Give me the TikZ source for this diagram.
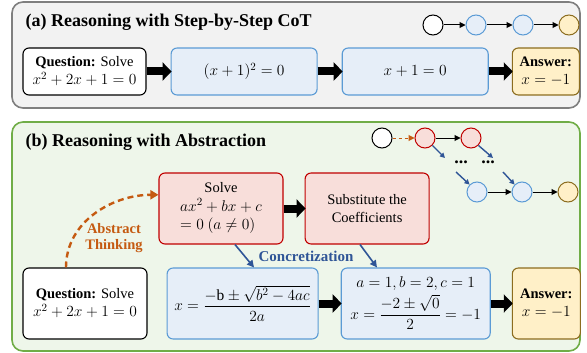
\documentclass[tikz,border=0pt]{standalone}
\usepackage{fix-cm}
\usepackage{amsmath}
\usepackage{amssymb}
\usepackage{fontspec}
\setmainfont{Liberation Serif}
\DeclareMathSizes{14.5}{15.5}{11}{8.5}
\usepackage{tikz}
\usetikzlibrary{positioning}
\usetikzlibrary{calc}
\usetikzlibrary{arrows.meta}
\definecolor{stepblue}{HTML}{5B9BD5}
\definecolor{stepfill}{HTML}{E6EEF8}
\definecolor{absred}{HTML}{C00000}
\definecolor{absfill}{HTML}{F8DEDA}
\definecolor{ansdraw}{HTML}{8C6D1F}
\definecolor{ansfill}{HTML}{FFF0C8}
\definecolor{thinkorange}{HTML}{C55A11}
\definecolor{concblue}{HTML}{2F5597}
\definecolor{panelgray}{HTML}{7F7F7F}
\definecolor{panelfill}{HTML}{F2F2F2}
\definecolor{panelgreen}{HTML}{70AD47}
\definecolor{greenfill}{HTML}{EEF6EA}
\tikzset{
  box/.style={rounded corners=6pt, line width=1.1pt, align=center, inner sep=2pt, font=\fontsize{14.5}{18}\selectfont},
  qbox/.style={box, draw=black, fill=white},
  stepbox/.style={box, draw=stepblue, fill=stepfill},
  ansbox/.style={box, draw=ansdraw, fill=ansfill},
  absbox/.style={box, draw=absred, fill=absfill},
  bigarrow/.style={line width=8pt, -{Triangle[length=9pt,width=18pt]}, shorten >=-1pt},
  dot/.style={circle, minimum size=20pt, line width=1pt, inner sep=0pt},
  thin arrow/.style={line width=1pt, -{Triangle[length=6pt,width=6pt]}},
  walk arrow/.style={concblue, line width=1.4pt, -{Triangle[length=5pt,width=5pt]}},
  title/.style={anchor=west, font=\fontsize{18}{20}\selectfont\bfseries}
}

\begin{document}
\begin{tikzpicture}[x=1pt,y=1pt]
    \useasboundingbox (0,0) rectangle (587,-353);
    % panels
    \draw[panelgray, fill=panelfill, line width=1.6pt, rounded corners=11pt] (12,-2) rectangle (580,-108);
    \draw[panelgreen, fill=greenfill, line width=1.6pt, rounded corners=11pt] (12,-122) rectangle (580,-351);
    \node[title] (ta) at (22,-22) {(a) Reasoning with Step-by-Step CoT};
    \node[title] (tb) at (22,-142) {(b) Reasoning with Abstraction};

    % (a) chain of thought
    \node[qbox, minimum width=123pt, minimum height=47pt] (qa) at (84.5,-71.5) {\textbf{Question:} Solve\\$x^2+2x+1=0$};
    \node[stepbox, minimum width=146pt, minimum height=47pt, right=24pt of qa] (sa1) {$(x+1)^2=0$};
    \node[stepbox, minimum width=146pt, minimum height=47pt, right=24pt of sa1] (sa2) {$x+1=0$};
    \node[ansbox, minimum width=67pt, minimum height=47pt, right=23pt of sa2] (aa) {\textbf{Answer:}\\$x=-1$};
    \draw[bigarrow] (qa) -- (sa1);
    \draw[bigarrow] (sa1) -- (sa2);
    \draw[bigarrow] (sa2) -- (aa);

    \node[dot, draw=black, fill=white] (ca0) at (433,-25) {};
    \node[dot, draw=stepblue, fill=stepfill] (ca1) at (476,-25) {};
    \node[dot, draw=stepblue, fill=stepfill] (ca2) at (523,-25) {};
    \node[dot, draw=ansdraw, fill=ansfill] (ca3) at (569,-25) {};
    \draw[thin arrow] (ca0) -- (ca1);
    \draw[thin arrow] (ca1) -- (ca2);
    \draw[thin arrow] (ca2) -- (ca3);

    % (b) abstraction
    \node[absbox, minimum width=124pt, minimum height=71pt] (r1) at (221,-208.5) {Solve\\[1pt]\begin{tabular}[t]{@{}l@{}}$ax^2+bx+c$\\$=0\ (a\neq0)$\end{tabular}};
    \node[absbox, minimum width=124pt, minimum height=71pt, right=21pt of r1] (r2) {Substitute the\\Coefficients};
    \node[qbox, minimum width=124pt, minimum height=71pt] (qb) at (85,-303.5) {\textbf{Question:} Solve\\$x^2+2x+1=0$};
    \node[stepbox, minimum width=151pt, minimum height=71pt, right=19pt of qb] (sb1) {$x=\dfrac{-\mathrm{b}\pm\sqrt{b^2-4ac}}{2a}$};
    \node[stepbox, minimum width=149pt, minimum height=71pt, right=22pt of sb1] (sb2) {$a=1,b=2,c=1$\\[3pt]$x=\dfrac{-2\pm\sqrt{0}}{2}=-1$};
    \node[ansbox, minimum width=68pt, minimum height=71pt, right=21pt of sb2] (ab) {\textbf{Answer:}\\$x=-1$};
    \draw[bigarrow] (r1) -- (r2);
    \draw[bigarrow] (sb1) -- (sb2);
    \draw[bigarrow] (sb2) -- (ab);

    \coordinate (up) at ($(r1.north west)!0.31!(r1.south west)$);
    \draw[thinkorange, line width=2.4pt, dash pattern=on 6pt off 4pt, -{Triangle[length=8pt,width=9pt]}]
        (qb.north -| 66,0) to[out=90, in=180] (up);
    \node[thinkorange, font=\fontsize{14.5}{16}\selectfont\bfseries, align=center] (at) at (114,-238) {Abstract\\Thinking};

    \draw[concblue, line width=1.6pt, -{Triangle[length=7pt,width=7pt]}] (r1.south -| 235,0) -- (sb1.north -| 254,0);
    \draw[concblue, line width=1.6pt, -{Triangle[length=7pt,width=7pt]}] (r2.south -| 360,0) -- (sb2.north -| 377,0);
    \node[concblue, font=\fontsize{15}{16}\selectfont\bfseries] (cz) at (306,-256) {Concretization};

    \node[dot, draw=black, fill=white] (cb0) at (382,-138) {};
    \node[dot, draw=absred, fill=absfill] (cb1) at (425,-138) {};
    \node[dot, draw=absred, fill=absfill] (cb2) at (471,-138) {};
    \node[dot, draw=stepblue, fill=stepfill] (cb3) at (477,-192) {};
    \node[dot, draw=stepblue, fill=stepfill] (cb4) at (522,-192) {};
    \node[dot, draw=ansdraw, fill=ansfill] (cb5) at (568,-192) {};
    \node[font=\fontsize{18}{18}\selectfont\bfseries, inner sep=0pt] (d1) at (461,-162) {...};
    \node[font=\fontsize{18}{18}\selectfont\bfseries, inner sep=0pt] (d2) at (488,-162) {...};
    \coordinate (w1) at (445,-158);
    \coordinate (w2) at (456,-172);
    \coordinate (w3) at (493,-158);
    \coordinate (w4) at (503,-172);
    \draw[thinkorange, line width=1pt, dashed, -{Triangle[length=6pt,width=6pt]}] (cb0) -- (cb1);
    \draw[thin arrow] (cb1) -- (cb2);
    \draw[thin arrow] (cb3) -- (cb4);
    \draw[thin arrow] (cb4) -- (cb5);
    \draw[walk arrow] (cb1.south east) -- (w1);
    \draw[walk arrow] (cb2.south east) -- (w3);
    \draw[walk arrow] (w2) -- (cb3.north west);
    \draw[walk arrow] (w4) -- (cb4.north west);
\end{tikzpicture}
\end{document}
